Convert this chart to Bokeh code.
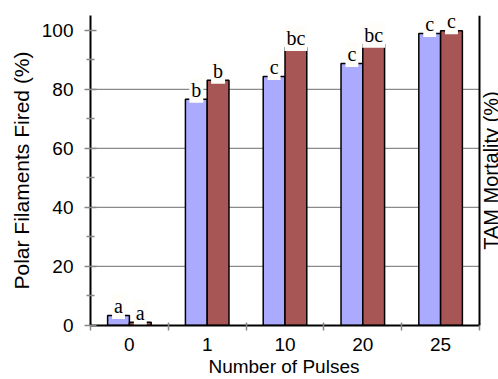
import numpy as np
from bokeh.plotting import figure
from bokeh.models import FixedTicker, Range1d, Label, Span
from bokeh.core.properties import value
from bokeh.embed import file_html
from bokeh.resources import INLINE

# ---- data ----
pulses = ["0", "1", "10", "20", "25"]
polar_fired = [3.4, 76.6, 84.3, 88.7, 98.9]
tam_mortality = [1.1, 83.1, 94.2, 95.3, 99.8]
polar_letters = ["a", "b", "c", "c", "c"]
tam_letters = ["a", "b", "bc", "bc", "c"]
y_ticks = [0, 20, 40, 60, 80, 100]
y_minor = [10, 30, 50, 70, 90]
grid_levels = [20, 40, 60, 80]

BLUE = "#aaaaff"
RED = "#a85555"
SANS = "Liberation Sans"
SERIF = "Liberation Serif"

n = len(pulses)
pos = np.arange(n) + 0.5
bw = 0.28
off = 0.14
x_extra = 19 / 77.8   # room right of the right-hand axis for its title

p = figure(width=498, height=379, x_range=Range1d(0, n + x_extra), y_range=Range1d(0, 105),
           output_backend="svg", toolbar_location=None,
           min_border_left=90, min_border_right=0, min_border_top=15, min_border_bottom=53)
p.outline_line_color = None
p.background_fill_color = "white"
p.border_fill_color = "white"

# gridlines only between the two axes
p.segment(x0=0, x1=n, y0=grid_levels, y1=grid_levels, line_color="#8a8a8a", line_width=1.2)

p.vbar(x=pos - off, top=polar_fired, width=bw, fill_color=BLUE, line_color="black", line_width=1.5)
p.vbar(x=pos + off, top=tam_mortality, width=bw, fill_color=RED, line_color="black", line_width=1.5)

box = dict(top=1, right=2, bottom=2, left=2)
for xs, ys, labs in ((pos - off, polar_fired, polar_letters), (pos + off, tam_mortality, tam_letters)):
    p.text(x=xs, y=ys, text=labs, text_align="center", text_baseline="alphabetic", y_offset=-9,
           text_font=value(SERIF), text_font_size="20px", text_color="black",
           background_fill_color="#fffdfa", padding=box)

p.xgrid.visible = False
p.ygrid.visible = False

# y axis
ya = p.yaxis[0]
ya.ticker = FixedTicker(ticks=y_ticks, minor_ticks=y_minor)
ya.axis_line_color = "black"
ya.axis_line_width = 2
ya.major_tick_line_color = "#888888"
ya.major_tick_line_width = 1.5
ya.major_tick_in = 6
ya.major_tick_out = 6
ya.minor_tick_line_color = "#888888"
ya.minor_tick_line_width = 1.5
ya.minor_tick_in = 4
ya.minor_tick_out = 4
ya.major_label_text_font = SANS
ya.major_label_text_font_size = "19px"
ya.major_label_text_color = "black"
ya.major_label_standoff = 11
ya.axis_label = "Polar Filaments Fired (%)"
ya.axis_label_text_font = SANS
ya.axis_label_text_font_size = "21px"
ya.axis_label_text_font_style = "normal"
ya.axis_label_text_color = "black"
ya.axis_label_standoff = 6

# x axis
xa = p.xaxis[0]
xa.bounds = (0, n)
xa.ticker = FixedTicker(ticks=list(pos), minor_ticks=list(range(n + 1)))
xa.major_label_overrides = {float(v): s for v, s in zip(pos, pulses)}
xa.axis_line_color = "black"
xa.axis_line_width = 2
xa.major_tick_in = 0
xa.major_tick_out = 0
xa.minor_tick_line_color = "#888888"
xa.minor_tick_line_width = 1.5
xa.minor_tick_in = 3
xa.minor_tick_out = 5
xa.major_label_text_font = SANS
xa.major_label_text_font_size = "19px"
xa.major_label_text_color = "black"
xa.major_label_standoff = 7
# trailing no-break spaces re-centre the title between the two axes
xa.axis_label = "Number of Pulses" + "\u00a0" * 4
xa.axis_label_text_font = SANS
xa.axis_label_text_font_size = "19px"
xa.axis_label_text_font_style = "normal"
xa.axis_label_text_color = "black"
xa.axis_label_standoff = 2

# right-hand axis line and its title
p.add_layout(Span(location=n, dimension="height", line_color="black", line_width=2))
p.add_layout(Label(x=n, y=52.5, x_offset=0, text="TAM Mortality (%)", angle=np.pi / 2,
                   text_align="center", text_baseline="top", text_font=SANS,
                   text_font_size="20px", text_color="black"))

open("out.html", "w").write(file_html(p, INLINE))
